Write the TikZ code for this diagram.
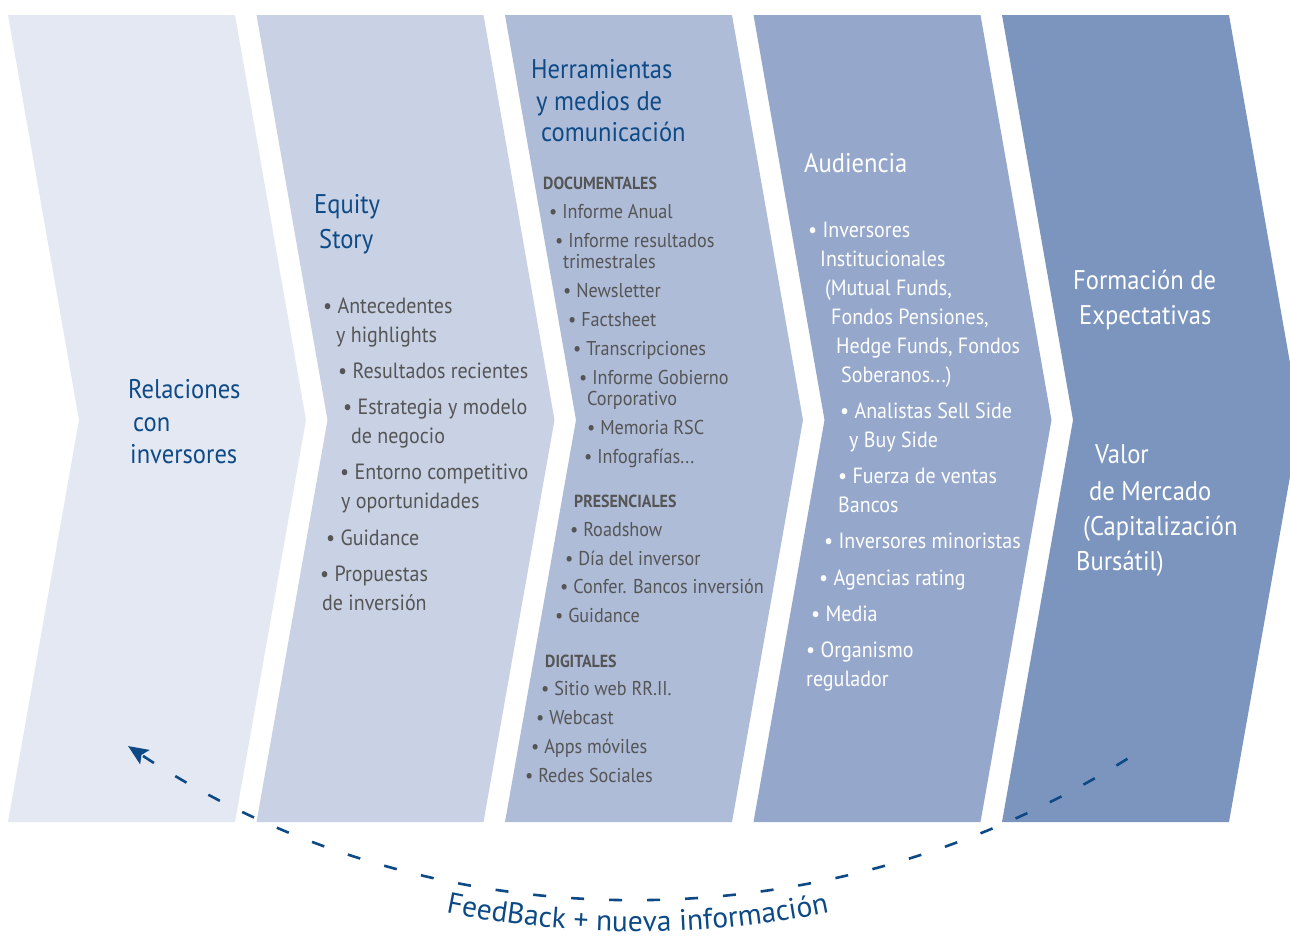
\documentclass[tikz,border=0pt]{standalone}
\usepackage{fontspec}
\setmainfont{PT Sans}[FakeStretch=0.91]
\newfontfamily\fbfamily{PT Sans}
\usetikzlibrary{arrows.meta,decorations.text,calc}
\definecolor{chA}{HTML}{E3E8F3}
\definecolor{chB}{HTML}{C9D2E5}
\definecolor{chC}{HTML}{AEBCD8}
\definecolor{chD}{HTML}{95A8CB}
\definecolor{chE}{HTML}{7B95BE}
\definecolor{titleblue}{HTML}{0E4A86}
\definecolor{bodygray}{HTML}{555555}
\definecolor{arrowblue}{HTML}{0D4A85}
\newcommand\fbfont{\fbfamily\fontsize{29.5}{29.5}\selectfont}
\tikzset{
  ttl/.style={anchor=base west, inner sep=0pt, text=titleblue, font=\fontsize{27}{27}\selectfont},
  wttl/.style={ttl, text=white},
  bd/.style={anchor=base west, inner sep=0pt, text=bodygray, font=\fontsize{22}{22}\selectfont},
  bds/.style={bd, font=\fontsize{20}{20}\selectfont},
  cat/.style={bd, font=\bfseries\fontsize{17.5}{17.5}\selectfont},
  wbd/.style={bd, text=white, font=\fontsize{22}{22}\selectfont},
  fbarrow/.style={draw=arrowblue, line width=2.6pt, dash pattern=on 13pt off 25pt,
    -{Stealth[length=20pt,width=17pt,inset=4pt]}},
}
\newcommand\chevronpath[2]{%
  \fill[#2] (#1,15) -- ++(227,0) -- ++(71,405) -- ++(-71,402) -- ++(-227,0) -- ++(71,-402) -- cycle;}
\begin{document}
\begin{tikzpicture}[x=1pt,y=-1pt]
\useasboundingbox (0,0) rectangle (1290,938);
\clip (0,0) rectangle (1290,938);
% chevrons
\chevronpath{8}{chA}
\chevronpath{256.5}{chB}
\chevronpath{505}{chC}
\chevronpath{753.5}{chD}
\chevronpath{1002}{chE}
% chevron 1
\node[ttl] (r1) at (128,398) {Relaciones};
\node[ttl] (r2) at (133,431) {con};
\node[ttl] (r3) at (130,463) {inversores};
% chevron 2
\node[ttl] (e1) at (314,213) {Equity};
\node[ttl] (e2) at (319,248) {Story};
\node[bd] (e3) at (323,313) {• Antecedentes};
\node[bd] (e4) at (336,342) {y highlights};
\node[bd] (e5) at (338,378) {• Resultados recientes};
\node[bd] (e6) at (343,414) {• Estrategia y modelo};
\node[bd] (e7) at (351,443) {de negocio};
\node[bd] (e8) at (340,479) {• Entorno competitivo};
\node[bd] (e9) at (341,508) {y oportunidades};
\node[bd] (e10) at (326,545) {• Guidance};
\node[bd] (e11) at (320,581) {• Propuestas};
\node[bd] (e12) at (322,610) {de inversión};
% chevron 3
\node[ttl] (h1) at (531,78) {Herramientas};
\node[ttl] (h2) at (536,110) {y medios de};
\node[ttl] (h3) at (541,141) {comunicación};
\node[cat] (h4) at (543,189) {DOCUMENTALES};
\node[bds] (h5) at (549,218) {• Informe Anual};
\node[bds] (h6) at (555,247) {• Informe resultados};
\node[bds] (h7) at (563,268) {trimestrales};
\node[bds] (h8) at (563,297) {• Newsletter};
\node[bds] (h9) at (568,326) {• Factsheet};
\node[bds] (h10) at (573,355) {• Transcripciones};
\node[bds] (h11) at (579,384) {• Informe Gobierno};
\node[bds] (h12) at (587,405) {Corporativo};
\node[bds] (h13) at (587,434) {• Memoria RSC};
\node[bds] (h14) at (584,463) {• Infografías...};
\node[cat] (h15) at (574,507) {PRESENCIALES};
\node[bds] (h16) at (570,536) {• Roadshow};
\node[bds] (h17) at (565,565) {• Día del inversor};
\node[bds] (h18) at (560,593) {• Confer. Bancos inversión};
\node[bds] (h19) at (555,622) {• Guidance};
\node[cat] (h20) at (545,667) {DIGITALES};
\node[bds] (h21) at (541,695) {• Sitio web RR.II.};
\node[bds] (h22) at (536,724) {• Webcast};
\node[bds] (h23) at (531,753) {• Apps móviles};
\node[bds] (h24) at (525,782) {• Redes Sociales};
% chevron 4
\node[wttl] (a1) at (804,172) {Audiencia};
\node[wbd] (a2) at (808,237) {• Inversores};
\node[wbd] (a3) at (820,266) {Institucionales};
\node[wbd] (a4) at (825,295) {(Mutual Funds,};
\node[wbd] (a5) at (831,324) {Fondos Pensiones,};
\node[wbd] (a6) at (836,353) {Hedge Funds, Fondos};
\node[wbd] (a7) at (841,382) {Soberanos...)};
\node[wbd] (a8) at (840,418) {• Analistas Sell Side};
\node[wbd] (a9) at (849,447) {y Buy Side};
\node[wbd] (a10) at (838,483) {• Fuerza de ventas};
\node[wbd] (a11) at (838,512) {Bancos};
\node[wbd] (a12) at (824,548) {• Inversores minoristas};
\node[wbd] (a13) at (819,585) {• Agencias rating};
\node[wbd] (a14) at (811,621) {• Media};
\node[wbd] (a15) at (806,657) {• Organismo};
\node[wbd] (a16) at (806,686) {regulador};
% chevron 5
\node[wttl] (f1) at (1073,289) {Formación de};
\node[wttl] (f2) at (1079,324) {Expectativas};
\node[wttl] (f3) at (1095,463) {Valor};
\node[wttl] (f4) at (1089,500) {de Mercado};
\node[wttl] (f5) at (1083,535) {(Capitalización};
\node[wttl] (f6) at (1076,570) {Bursátil)};
% feedback arc
\coordinate (fbc) at (637.6,-25.2);
\coordinate (fbr) at ($(fbc)+(58:924.4)$);
\draw[fbarrow] (fbr) arc[start angle=58, end angle=123.45, radius=924.4];
\coordinate (fbt) at ($(fbc)+(105:957)$);
\path[decorate, decoration={text along path, text align=center, text color=arrowblue,
  text={|\fbfont|FeedBack + nueva información}}]
  (fbt) arc[start angle=105, end angle=75, radius=957];
\end{tikzpicture}
\end{document}
